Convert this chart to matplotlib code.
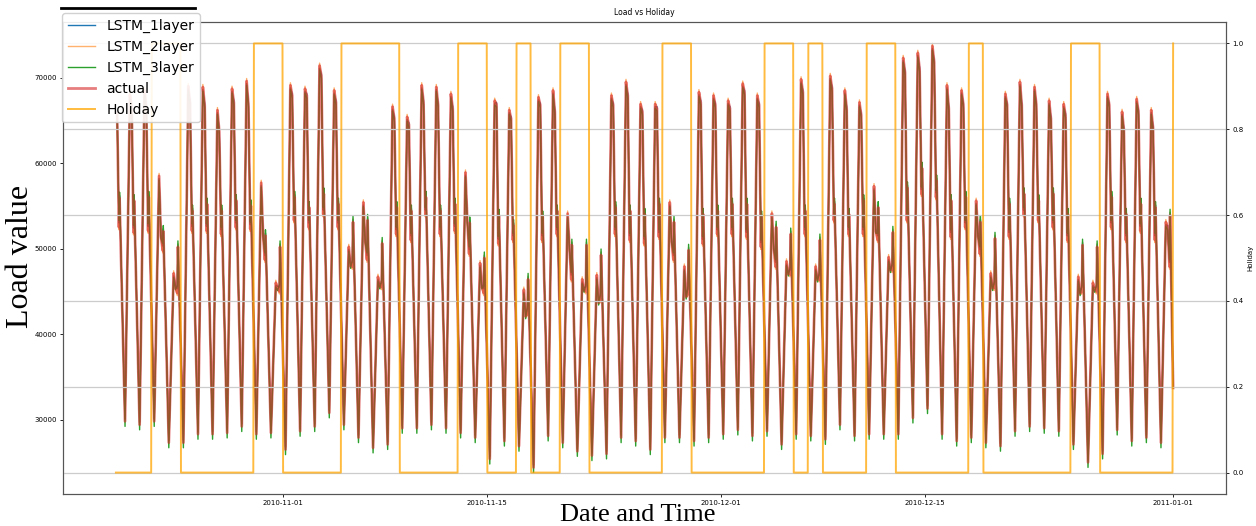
import pandas as pd
import matplotlib
matplotlib.use("Agg")
import matplotlib.pyplot as plt
import matplotlib.dates as mdates
from matplotlib.lines import Line2D

# daily load readings (2010-10-20 .. 2010-12-31), values at the daily anchor hours
trough = [29000, 29800, 29400, 29800, 27300, 27300, 28300, 28300, 28450, 29200, 28300, 28450,
          26500, 28650, 29200, 30800, 29400, 27900, 26700, 27100, 29000, 29000, 29400, 29000,
          28450, 27900, 25400, 27500, 26900, 24400, 28100, 27300, 26300, 25800, 26000, 27900,
          27500, 26500, 27900, 27900, 27500, 27900,
          28300, 28800, 28100, 28650, 27100, 28300, 28100, 27700, 29400, 28100, 28300, 28300,
          28300, 30200, 31300, 28300, 27500, 27900, 27300, 26900, 28650, 29200, 29000, 28650,
          27100, 25000, 26000, 28800, 27500, 27900, 27300]
peak = [68000, 68000, 68500, 58500, 47100, 69000, 68900, 66200, 68700, 69600, 57700, 46000,
        69100, 68700, 71400, 68500, 50200, 55400, 46700, 66600, 65400, 69100, 68900, 68100,
        58900, 48300, 67300, 66200, 45200, 67700, 68500, 54100, 46400, 46900, 67900, 69500,
        66900, 66900, 55400, 47900, 68300, 67900,
        67300, 69300, 67900, 54100, 48500, 69800, 47900, 70200, 68500, 67100, 57300, 49000,
        72300, 72900, 73700, 69100, 68500, 55600, 47100, 68100, 69500, 68900, 67300, 66900,
        46700, 46000, 68100, 66000, 67500, 66200, 53100]
mid = [66000, 66500, 66500, 51500, 45500, 67000, 66800, 63700, 67100, 66800, 51700, 45400,
       67900, 67900, 70200, 67100, 48000, 51000, 45600, 65200, 64500, 67100, 66800, 66400,
       53300, 45600, 66900, 65200, 42100, 66800, 66000, 50200, 45200, 43700, 66800, 67900,
       66000, 66400, 51000, 44400, 67100, 66800,
       66400, 68300, 66800, 50200, 47100, 68300, 46400, 68700, 66400, 65600, 52100, 47500,
       70600, 71000, 71800, 66400, 66800, 51700, 45400, 66800, 66800, 66800, 65200, 65600,
       44800, 45200, 66800, 63900, 66000, 64100, 52500]
eve_lo = [52500, 51900, 52100, 49800, 44800, 52100, 52100, 51700, 52500, 52300, 48700, 45000,
          53300, 52500, 54000, 52500, 47900, 48700, 45500, 51700, 51000, 54000, 51700, 52100,
          49400, 44800, 50600, 51000, 42500, 51000, 51700, 46400, 45000, 44000, 51700, 51000,
          50600, 51400, 48700, 44800, 50600, 51700,
          51700, 51400, 50200, 47900, 47000, 51700, 46400, 53300, 51700, 51700, 51000, 47500,
          53300, 56400, 56000, 51400, 52500, 49400, 45400, 51400, 54000, 53300, 52500, 51000,
          45000, 45000, 52500, 51000, 52100, 51000, 47900]
eve_hi = [55900, 55600, 56000, 52000, 50200, 54400, 55200, 54400, 55600, 55000, 51500, 50200,
          56000, 54800, 56400, 55200, 53100, 53300, 50600, 54800, 54400, 56000, 54400, 55200,
          53000, 48900, 53900, 52700, 46400, 53700, 54400, 50400, 50400, 49250, 54800, 54400,
          54000, 55200, 53100, 49800, 54000, 54400,
          55200, 55200, 53700, 52500, 51700, 54400, 51000, 55200, 54000, 55600, 54800, 51900,
          57100, 59400, 57900, 55600, 56000, 53100, 51200, 55200, 56400, 55600, 56400, 54000,
          50400, 50200, 56000, 54000, 55200, 54800, 53900]
last_load = 33700  # 2011-01-01 00:00

# model deviations from actual at each anchor (trough, peak, mid, eve_lo, eve_hi)
lstm1_dev = [300, -300, 200, 500, 300]
lstm2_dev = [200, 300, -200, -300, 400]
lstm3_dev = [-600, -500, -300, 800, 700]

holiday_days = ['2010-10-23', '2010-10-24', '2010-10-30', '2010-10-31', '2010-11-05',
                '2010-11-06', '2010-11-07', '2010-11-08', '2010-11-13', '2010-11-14',
                '2010-11-17', '2010-11-20', '2010-11-21', '2010-11-27', '2010-11-28',
                '2010-12-04', '2010-12-05', '2010-12-07', '2010-12-11', '2010-12-12',
                '2010-12-18', '2010-12-25', '2010-12-26', '2011-01-01']

xticks = ['2010-11-01', '2010-11-15', '2010-12-01', '2010-12-15', '2011-01-01']

start = pd.Timestamp('2010-10-20 13:00')
end = pd.Timestamp('2011-01-01 00:00')
anchor_hours = [4, 12, 15, 18, 19]


def build_series(dev):
    days = pd.date_range('2010-10-20', periods=len(trough), freq='D')
    cols = [trough, peak, mid, eve_lo, eve_hi]
    times, vals = [], []
    for i, d in enumerate(days):
        for h, col, off in zip(anchor_hours, cols, dev):
            times.append(d + pd.Timedelta(hours=h))
            vals.append(col[i] + off)
    times.append(end)
    vals.append(last_load)
    s = pd.Series(vals, index=times)
    return s[s.index >= start]


actual = build_series([0, 0, 0, 0, 0])
lstm1 = build_series(lstm1_dev)
lstm2 = build_series(lstm2_dev)
lstm3 = build_series(lstm3_dev)

hours = pd.date_range(start, end, freq='h')
holiday = hours.normalize().isin(pd.to_datetime(holiday_days)).astype(int)

fig = plt.figure(figsize=(12.56, 5.26), dpi=100)
ax = fig.add_axes([0.0502, 0.0608, 0.9259, 0.8974])

l1, = ax.plot(lstm1.index, lstm1.values, color='#1f77b4', lw=1.0, label='LSTM_1layer')
l2, = ax.plot(lstm2.index, lstm2.values, color='#ff7f0e', lw=1.0, alpha=0.6, label='LSTM_2layer')
l3, = ax.plot(lstm3.index, lstm3.values, color='#2ca02c', lw=1.0, label='LSTM_3layer')
l4, = ax.plot(actual.index, actual.values, color='#d62728', lw=2.0, alpha=0.6, label='actual')

ax2 = ax.twinx()
l5, = ax2.plot(hours, holiday, color='orange', lw=1.4, alpha=0.75, label='Holiday')
ax2.grid(True, color='#cccccc', lw=0.9)
ax2.set_ylabel('Holiday', fontsize=5, labelpad=3)

ax.set_xticks(pd.to_datetime(xticks))
ax.xaxis.set_major_formatter(mdates.DateFormatter('%Y-%m-%d'))
ax.set_title('Load vs Holiday', fontsize=5.5, pad=5)

for a in (ax, ax2):
    a.tick_params(labelsize=5, length=2.5, width=0.6, pad=2)
    for sp in a.spines.values():
        sp.set_color('#555555')
        sp.set_linewidth(0.8)

fig.legend(handles=[l1, l2, l3, l4, l5], loc='upper left',
           bbox_to_anchor=(62 / 1256, 1 - 13 / 526), borderaxespad=0,
           fontsize=10, framealpha=0.9)
fig.add_artist(Line2D([61 / 1256, 195 / 1256], [1 - 8 / 526] * 2, color='black', lw=2))

serif = ['Liberation Serif', 'DejaVu Serif']
fig.text(21 / 1256, 1 - 256 / 526, 'Load value', rotation=90, ha='center', va='center',
         fontsize=23, family=serif)
fig.text(638 / 1256, 1 - 515 / 526, 'Date and Time', ha='center', va='center',
         fontsize=19, family=serif)

fig.savefig('out.png', dpi=100)
